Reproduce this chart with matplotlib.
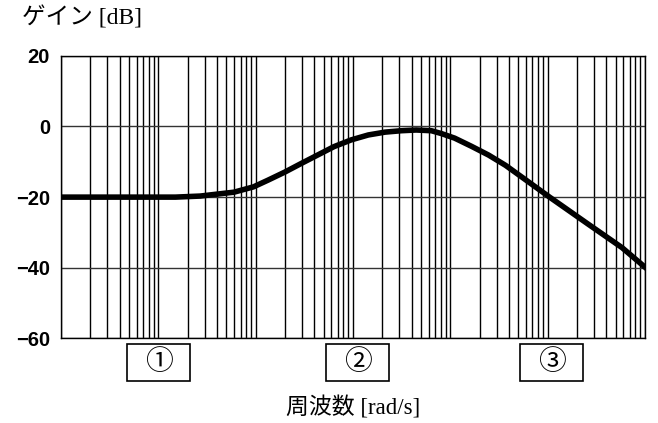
import matplotlib
matplotlib.use('Agg')
import matplotlib.pyplot as plt
from matplotlib.patches import Rectangle
from matplotlib.ticker import LogLocator, NullFormatter

# gain curve
freq = [0.01, 0.05, 0.15, 0.27, 0.6, 0.95, 1.34, 2.0, 2.93, 4.4, 6.4, 9.6,
        14.4, 21.4, 31.5, 44.7, 64, 81, 111, 165, 248, 370, 543, 1050, 2600,
        5830, 10000]
gain = [-20, -20, -20, -19.7, -18.6, -17.1, -15.2, -12.9, -10.5, -8.0, -5.7,
        -3.8, -2.4, -1.6, -1.2, -1.0, -1.2, -2.0, -3.3, -5.6, -8.1, -11.0,
        -14.3, -20, -27.6, -34.3, -39.8]
yticks = [20, 0, -20, -40, -60]
box_labels = ["①", "②", "③"]

fig = plt.figure(figsize=(6.58, 4.23), dpi=100)
ax = fig.add_axes([0.0927, 0.200, 0.8873, 0.668])

ax.plot(freq, gain, color='black', lw=4, solid_joinstyle='round', zorder=3)

ax.set_xscale('log')
ax.set_xlim(0.01, 10000)
ax.set_ylim(-60, 20)
ax.set_yticks(yticks)
ax.set_yticklabels([str(v).replace('-', '\u2212') for v in yticks],
                   fontsize=14.5, family='Liberation Sans', fontweight='bold')
ax.tick_params(axis='y', length=0, pad=8)
ax.xaxis.set_major_locator(LogLocator(base=10, numticks=20))
ax.xaxis.set_minor_locator(LogLocator(base=10, subs=range(2, 10), numticks=100))
ax.xaxis.set_major_formatter(NullFormatter())
ax.xaxis.set_minor_formatter(NullFormatter())
ax.tick_params(axis='x', which='both', length=0)
ax.grid(True, which='both', axis='x', color='black', lw=1.0)
ax.grid(True, which='major', axis='y', color='#333333', lw=1.0)
for s in ax.spines.values():
    s.set_color('black')
    s.set_linewidth(1.0)

fig.text(22 / 658, 1 - 18 / 423, "ゲイン [dB]", fontsize=17,
         family=['Liberation Serif', 'Noto Sans CJK JP'], ha='left', va='center')
fig.text(353 / 658, 1 - 408 / 423, "周波数 [rad/s]", fontsize=16.5,
         family=['Liberation Serif', 'Noto Sans CJK JP'], ha='center', va='center')

# answer boxes under the axis
box_left = [127, 326, 520]
for bx, lab in zip(box_left, box_labels):
    fig.patches.append(Rectangle((bx / 658, 1 - 381 / 423), 63 / 658, 37 / 423,
                                 transform=fig.transFigure, fill=False,
                                 edgecolor='black', lw=1.2))
    fig.text((bx + 31.5) / 658, 1 - 362.5 / 423, lab, fontsize=20,
             family=['Noto Sans CJK JP', 'DejaVu Sans'], ha='center', va='center')

plt.savefig('out.png', dpi=100)
plt.close()
